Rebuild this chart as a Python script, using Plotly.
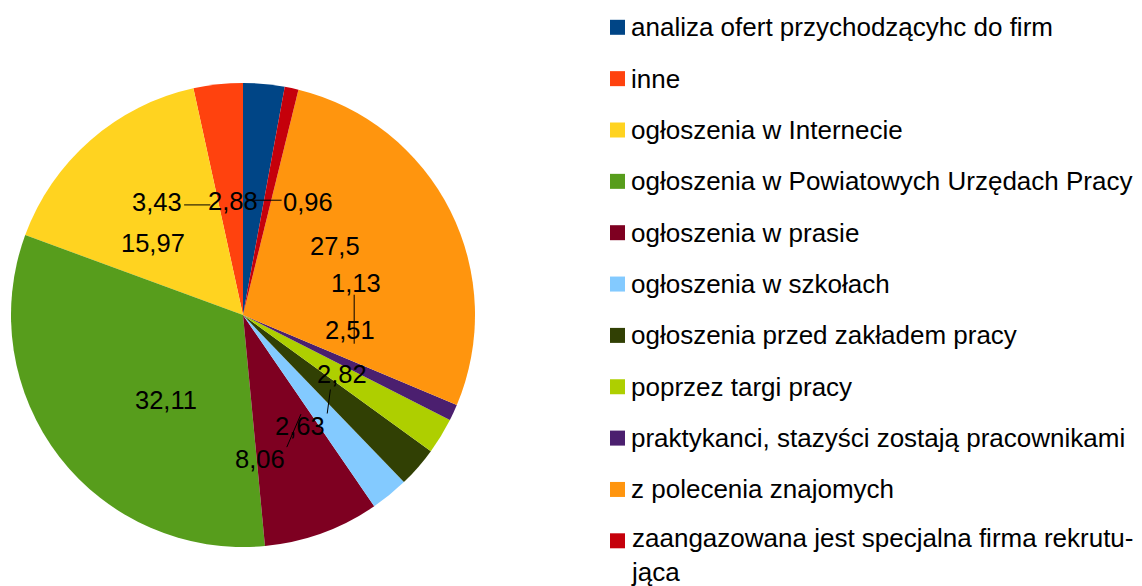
import math
import plotly.graph_objects as go

# data
categories = [
    "analiza ofert przychodzącyhc do firm",
    "inne",
    "ogłoszenia w Internecie",
    "ogłoszenia w Powiatowych Urzędach Pracy",
    "ogłoszenia w prasie",
    "ogłoszenia w szkołach",
    "ogłoszenia przed zakładem pracy",
    "poprzez targi pracy",
    "praktykanci, stazyści zostają pracownikami",
    "z polecenia znajomych",
    "zaangazowana jest specjalna firma rekrutu-<br>jąca",
]
values = [2.88, 3.43, 15.97, 32.11, 8.06, 2.63, 2.82, 2.51, 1.13, 27.5, 0.96]

colors = [
    "#004586", "#ff420e", "#ffd320", "#579d1c", "#7e0021", "#83caff",
    "#314004", "#aecf00", "#4b1f6f", "#ff950e", "#c5000b",
]

# layout (pixels)
W, H = 1142, 586
CX, CY, R = 243, 315, 232
LABEL_R = 0.495
FONT = "Liberation Sans, Arial, sans-serif"
FS_LABEL = 25.5
FS_LEGEND = 26

# label nudges (px) where the labels would collide, and which get a leader line
label_shift = {1: (-53, -3), 4: (-41, 45), 5: (-30, 36), 7: (0, -26), 8: (2, -61), 10: (62, 2)}
leader = {1, 4, 5, 8, 10}


def px(x):
    return x / W


def py(y):
    return 1 - y / H


def text_width(s):
    return sum(0.278 if c == "," else 0.556 for c in s) * FS_LABEL


fig = go.Figure(go.Pie(
    labels=[c.replace("<br>", "") for c in categories],
    values=values,
    sort=False,
    direction="counterclockwise",
    rotation=0,
    marker=dict(colors=colors, line=dict(width=0)),
    textinfo="none",
    hoverinfo="label+value",
    showlegend=False,
    domain=dict(x=[px(CX - R), px(CX + R)], y=[py(CY + R), py(CY - R)]),
))

total = sum(values)
cum = 0
for i, v in enumerate(values):
    mid = (cum + v / 2) / total * 2 * math.pi
    cum += v
    ax = CX - math.sin(mid) * R * LABEL_R
    ay = CY - math.cos(mid) * R * LABEL_R
    dx, dy = label_shift.get(i, (0, 0))
    lx, ly = ax + dx, ay + dy
    txt = f"{v:g}".replace(".", ",")

    if i in leader:
        hw = text_width(txt) / 2 + 2
        hh = 12
        ex = min(max(ax, lx - hw), lx + hw)
        ey = min(max(ay, ly - hh), ly + hh)
        fig.add_shape(type="line", xref="paper", yref="paper",
                      x0=px(ex), y0=py(ey), x1=px(ax), y1=py(ay),
                      line=dict(color="black", width=1))

    fig.add_annotation(xref="paper", yref="paper", x=px(lx), y=py(ly),
                       text=txt, showarrow=False, xanchor="center", yanchor="middle",
                       font=dict(family=FONT, size=FS_LABEL, color="black"))

# legend drawn by hand to keep the wide row spacing
LEG_X, LEG_Y0, LEG_STEP, SQ = 610, 27.3, 51.35, 15
for i, (name, col) in enumerate(zip(categories, colors)):
    yc = LEG_Y0 + i * LEG_STEP
    fig.add_shape(type="rect", xref="paper", yref="paper",
                  x0=px(LEG_X), x1=px(LEG_X + SQ), y0=py(yc + SQ / 2), y1=py(yc - SQ / 2),
                  fillcolor=col, line=dict(width=0))
    top = yc - 16 - (3 if "<br>" in name else 0)  # keep the wrapped line inside the page
    fig.add_annotation(xref="paper", yref="paper", x=px(LEG_X + SQ + 5), y=py(top),
                       text=name, showarrow=False, xanchor="left", yanchor="top", align="left",
                       borderpad=0,
                       font=dict(family=FONT, size=FS_LEGEND, color="black"))

fig.update_layout(
    width=W,
    height=H,
    margin=dict(l=0, r=0, t=0, b=0),
    paper_bgcolor="white",
    plot_bgcolor="white",
    showlegend=False,
)

# drop the browser's default body margin so the figure sits at the page corner
fig.write_html("out.html", config={"displayModeBar": False},
               post_script="document.body.style.margin='0';")
